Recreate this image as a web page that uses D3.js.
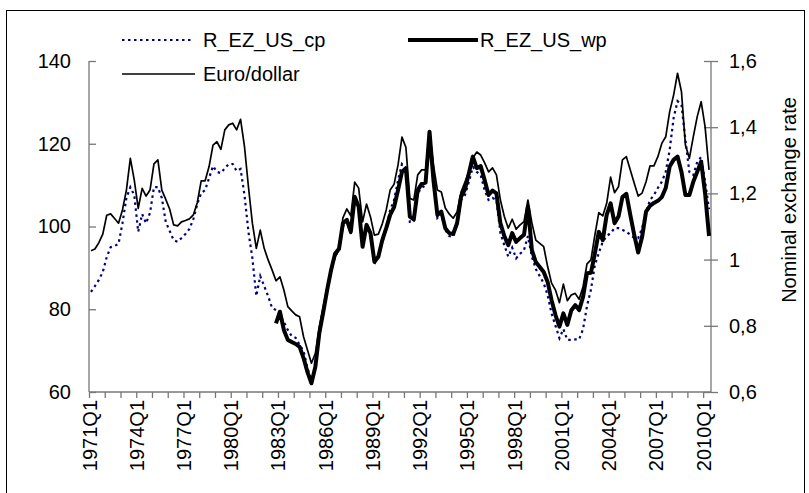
<!DOCTYPE html>
<html><head><meta charset="utf-8">
<script src="https://cdn.jsdelivr.net/npm/d3@7"></script>
<style>body{margin:0;background:#fff;} svg{display:block;font-family:"Liberation Sans",Arial,sans-serif;}</style>
</head><body><svg id="c" width="809" height="493"></svg>
<script>
// ---- data ----
const firstYear = 1971, nQuarters = 158; // 1971Q1 .. 2010Q2
const quarters = d3.range(nQuarters).map(i => `${firstYear + Math.floor(i / 4)}Q${i % 4 + 1}`);

const cp = [84.2,85.6,87.1,89.0,92.6,95.0,95.3,95.8,100.8,106.9,
109.5,107.6,98.7,103.0,100.8,103.3,109.5,109.5,106.9,101.1,
98.9,96.7,96.3,97.2,98.2,99.4,101.8,105.4,108.1,108.8,
111.7,114.6,113.2,112.9,114.1,115.1,115.1,113.4,113.9,107.6,
98.7,92.4,83.2,88.0,85.6,83.2,80.3,79.8,78.6,76.9,
75.0,73.5,73.1,71.4,69.9,65.8,62.9,65.8,73.8,78.9,
84.2,89.0,92.9,94.1,100.1,101.1,98.2,107.4,104.5,95.3,
100.1,98.2,90.9,93.1,96.0,99.6,104.0,106.4,111.2,115.1,
114.1,101.1,101.1,108.1,109.3,110.0,122.4,110.8,102.1,103.0,
99.2,97.7,97.5,100.4,106.4,107.6,110.8,114.4,113.2,112.4,
108.8,106.4,106.9,106.4,98.4,95.5,92.7,94.9,92.3,93.4,
94.3,97.7,92.7,89.7,88.0,86.3,83.4,79.0,76.0,73.0,
75.2,72.6,72.6,72.7,72.7,75.2,80.8,84.7,90.7,93.6,
96.3,97.7,98.4,99.6,99.6,99.2,98.7,98.0,97.2,97.2,
99.6,103.5,106.4,107.6,109.3,110.8,113.2,118.5,126.2,130.3,
129.4,120.9,113.2,112.4,115.6,116.8,110.8,104.2];

const wp = [null,null,null,null,null,null,null,null,null,null,
null,null,null,null,null,null,null,null,null,null,
null,null,null,null,null,null,null,null,null,null,
null,null,null,null,null,null,null,null,null,null,
null,null,null,null,null,null,null,
76.6,79.4,75.0,72.6,72.1,71.6,70.9,68.2,64.8,62.1,
66.1,74.2,79.3,84.7,89.5,93.4,94.6,100.8,101.6,98.7,
107.2,104.8,95.1,100.4,98.4,91.5,92.7,96.7,99.6,102.8,
104.7,108.8,113.2,114.1,102.4,101.7,108.8,110.3,110.6,122.9,
111.2,102.8,103.6,99.6,98.4,98.2,100.8,107.2,109.0,112.9,
116.9,114.1,114.6,111.2,107.6,108.7,108.0,100.8,97.7,95.5,
98.4,96.3,97.2,98.0,104.8,94.3,91.4,90.2,89.0,86.6,
82.2,78.6,75.8,79.0,76.2,79.7,81.0,79.8,83.0,88.7,
88.8,93.5,98.7,96.7,102.8,105.6,100.8,102.4,107.1,107.9,
102.8,98.0,93.7,97.5,103.6,105.0,105.7,106.2,107.1,109.3,
114.5,116.1,116.9,113.2,107.6,107.6,110.8,113.2,115.7,108.0,97.7];

const eurusd = [1.027,1.032,1.051,1.077,1.134,1.138,1.124,1.110,1.150,1.210,
1.306,1.240,1.155,1.215,1.192,1.210,1.289,1.301,1.210,1.182,
1.152,1.105,1.102,1.114,1.118,1.123,1.135,1.172,1.238,1.238,
1.281,1.346,1.356,1.333,1.392,1.407,1.412,1.392,1.424,1.341,
1.220,1.110,1.034,1.089,1.034,0.999,0.969,0.936,0.948,0.908,
0.858,0.845,0.833,0.827,0.767,0.727,0.687,0.717,0.797,0.857,
0.917,0.975,1.008,1.029,1.126,1.153,1.132,1.234,1.216,1.114,
1.168,1.129,1.074,1.077,1.108,1.150,1.210,1.228,1.286,1.370,
1.339,1.185,1.180,1.256,1.271,1.271,1.386,1.286,1.210,1.204,
1.156,1.138,1.125,1.144,1.204,1.234,1.265,1.307,1.325,1.316,
1.292,1.265,1.277,1.256,1.180,1.130,1.095,1.122,1.092,1.105,
1.115,1.180,1.111,1.059,1.049,1.039,0.979,0.929,0.908,0.870,
0.926,0.876,0.893,0.898,0.880,0.918,0.987,0.999,1.074,1.142,
1.132,1.170,1.249,1.202,1.220,1.301,1.311,1.271,1.231,1.192,
1.201,1.235,1.283,1.283,1.311,1.351,1.371,1.447,1.497,1.563,
1.507,1.346,1.306,1.371,1.432,1.477,1.401,1.271];

const leftTicks = [60, 80, 100, 120, 140];
const rightTicks = [0.6, 0.8, 1.0, 1.2, 1.4, 1.6];
const tickEvery = 4, labelEvery = 12;
const seriesNames = ["R_EZ_US_cp", "R_EZ_US_wp", "Euro/dollar"];
const rightTitle = "Nominal exchange rate";

// ---- layout ----
const W = 809, H = 493;
const L = 89, R = 711, T = 61, B = 392;
const FS = 20;
const svg = d3.select("#c");
svg.append("rect").attr("width", W).attr("height", H).attr("fill", "#fff");
svg.append("rect").attr("x", 6.5).attr("y", 10.5).attr("width", 798).attr("height", 520)
  .attr("fill", "none").attr("stroke", "#000").attr("stroke-width", 1);

const xb = d3.scaleBand().domain(d3.range(nQuarters)).range([L, R]).padding(0);
const xc = i => xb(i) + xb.bandwidth() / 2;
const xi = d3.scaleLinear().domain([0, nQuarters]).range([L, R]);
const yL = d3.scaleLinear().domain([60, 140]).range([B, T]);
const yR = d3.scaleLinear().domain([0.6, 1.6]).range([B, T]);

const axisCol = "#777";
const gL = svg.append("g").attr("transform", `translate(${L},0)`)
  .call(d3.axisLeft(yL).tickValues(leftTicks).tickSize(7).tickPadding(11).tickFormat(d3.format("d")));
gL.selectAll(".tick line").attr("x2", 7);
const gR = svg.append("g").attr("transform", `translate(${R},0)`)
  .call(d3.axisRight(yR).tickValues(rightTicks).tickSize(7).tickPadding(11)
    .tickFormat(d => d === 1 ? "1" : d.toFixed(1).replace(".", ",")));
gR.selectAll(".tick line").attr("x1", -7);
const gB = svg.append("g").attr("transform", `translate(0,${B})`)
  .call(d3.axisBottom(xi).tickValues(d3.range(0, nQuarters, tickEvery)).tickSize(6).tickFormat(""));
[gL, gR, gB].forEach(g => {
  g.select(".domain").attr("stroke", axisCol).attr("stroke-width", 1.3);
  g.selectAll(".tick line").attr("stroke", axisCol).attr("stroke-width", 1.3);
  g.selectAll("text").attr("font-size", FS).attr("fill", "#000").attr("font-family", "Liberation Sans, Arial, sans-serif");
});
gL.select(".domain").attr("d", `M0,${T}V${B}`);
gR.select(".domain").attr("d", `M0,${T}V${B}`);
gB.select(".domain").attr("d", `M${L},0H${R}`);

// x labels
svg.append("g").selectAll("text")
  .data(d3.range(0, nQuarters, labelEvery))
  .join("text")
  .attr("transform", i => `translate(${xi(i) + 0.5},${B + 8}) rotate(-90)`)
  .attr("text-anchor", "end").attr("dy", "0.35em")
  .attr("font-size", FS).text(i => quarters[i]);

// right title
svg.append("text").attr("transform", `translate(796,200) rotate(-90)`)
  .attr("text-anchor", "middle").attr("font-size", FS).text(rightTitle);

// lines
const lineL = d3.line().defined(d => d != null).x((d, i) => xc(i)).y(d => yL(d));
const lineR = d3.line().x((d, i) => xc(i)).y(d => yR(d));
svg.append("path").attr("d", lineL(cp)).attr("fill", "none").attr("stroke", "#000080")
  .attr("stroke-width", 2.2).attr("stroke-dasharray", "2.5,3.5");
svg.append("path").attr("d", lineR(eurusd)).attr("fill", "none").attr("stroke", "#000")
  .attr("stroke-width", 1.7).attr("stroke-linejoin", "round");
svg.append("path").attr("d", lineL(wp)).attr("fill", "none").attr("stroke", "#000")
  .attr("stroke-width", 4).attr("stroke-linejoin", "round");

// legend
const leg = svg.append("g");
const legItems = [
  {x1: 122, x2: 193, y: 40, tx: 203, name: seriesNames[0], stroke: "#000080", w: 2.2, dash: "2.5,3.5"},
  {x1: 408, x2: 478, y: 40, tx: 480, name: seriesNames[1], stroke: "#000", w: 4, dash: null},
  {x1: 122, x2: 195, y: 74, tx: 203, name: seriesNames[2], stroke: "#000", w: 1.7, dash: null}
];
legItems.forEach(d => {
  leg.append("line").attr("x1", d.x1).attr("x2", d.x2).attr("y1", d.y).attr("y2", d.y)
    .attr("stroke", d.stroke).attr("stroke-width", d.w).attr("stroke-dasharray", d.dash);
  leg.append("text").attr("x", d.tx).attr("y", d.y).attr("dy", "0.35em").attr("font-size", FS).text(d.name);
});
</script></body></html>
